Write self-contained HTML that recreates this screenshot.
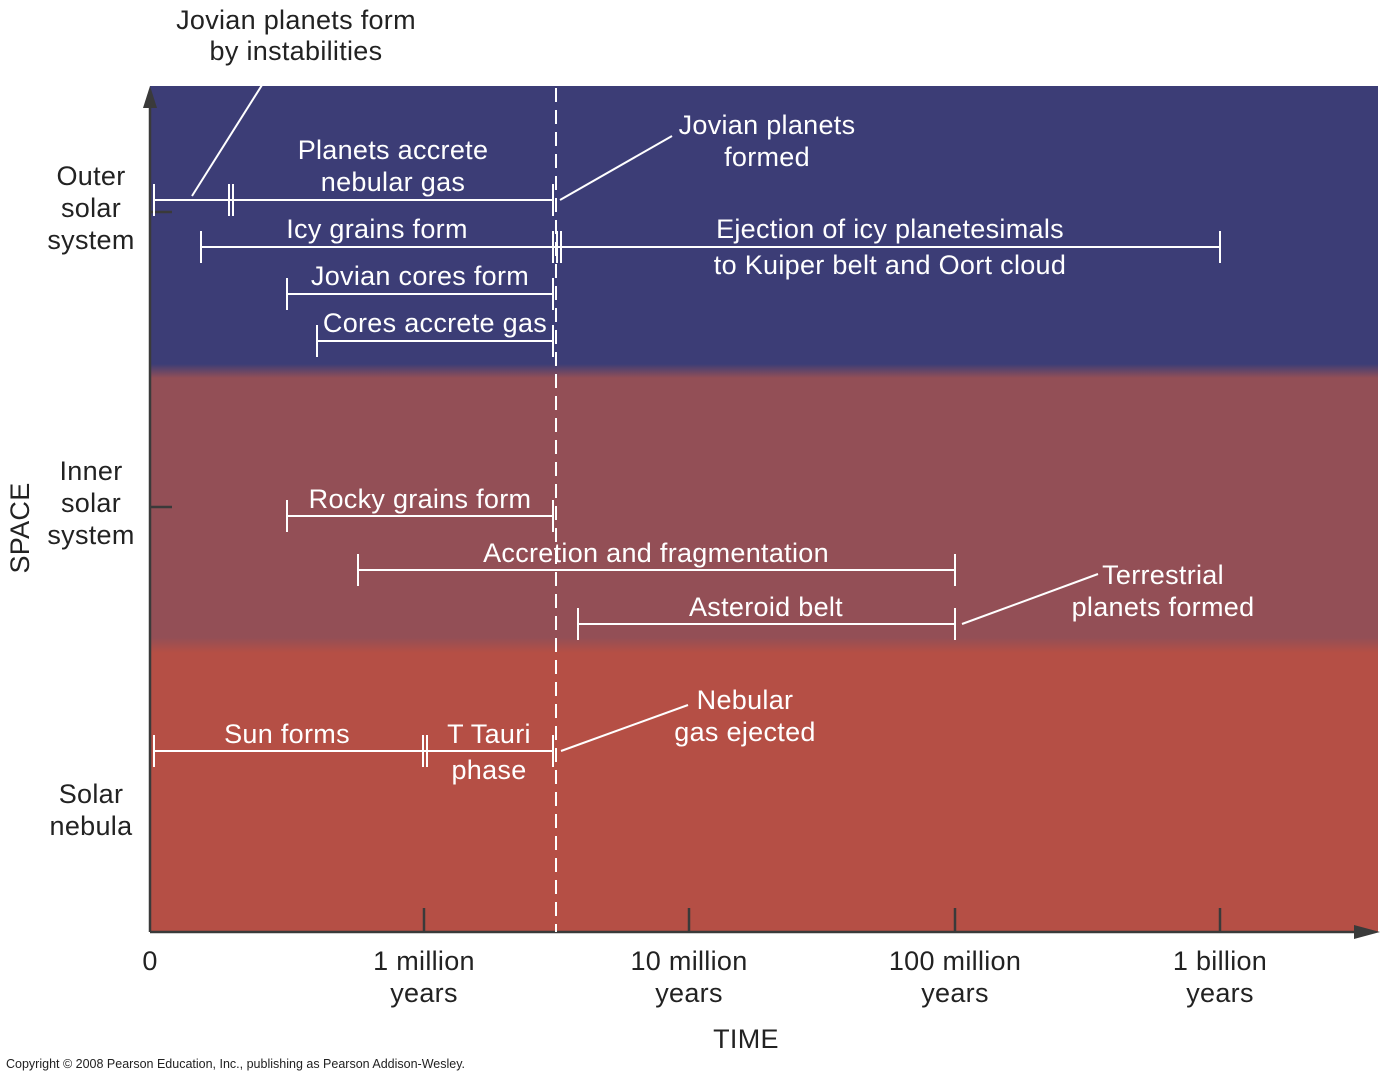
<!DOCTYPE html>
<html><head><meta charset="utf-8"><style>
body{margin:0;background:#fff;}
svg{display:block;font-family:"Liberation Sans",Arial,sans-serif;}
</style></head><body>
<svg width="1386" height="1080" viewBox="0 0 1386 1080">
<defs>
<linearGradient id="bg" x1="0" y1="86" x2="0" y2="932" gradientUnits="userSpaceOnUse">
<stop offset="0" stop-color="#3c3d76"/>
<stop offset="0.3286" stop-color="#3c3d76"/>
<stop offset="0.3452" stop-color="#934f56"/>
<stop offset="0.6518" stop-color="#934f56"/>
<stop offset="0.6700" stop-color="#b54f45"/>
<stop offset="1" stop-color="#b54f45"/>
</linearGradient>
</defs>
<rect x="150" y="86" width="1228" height="846" fill="url(#bg)"/>
<g stroke="#3a3a3a" stroke-width="2.5" fill="none">
<line x1="150" y1="100" x2="150" y2="932"/>
<line x1="150" y1="932" x2="1362" y2="932"/>
<line x1="424" y1="908" x2="424" y2="932"/>
<line x1="689" y1="908" x2="689" y2="932"/>
<line x1="955" y1="908" x2="955" y2="932"/>
<line x1="1220" y1="908" x2="1220" y2="932"/>
<line x1="150" y1="212" x2="172" y2="212"/>
<line x1="150" y1="507" x2="172" y2="507"/>
</g>
<polygon points="150,86 143,108 157,108" fill="#3a3a3a"/>
<polygon points="1380,932 1354,925 1354,939" fill="#3a3a3a"/>
<line x1="556" y1="88" x2="556" y2="932" stroke="#fff" stroke-width="2" stroke-dasharray="14,8"/>
<g stroke="#fff" stroke-width="2" fill="none">
<path d="M154 200H553 M154 184V216 M229 184V216 M233 184V216 M553 184V216"/>
<path d="M192 196L274 66 M560 200L672 136"/>
<path d="M201 247H1220 M201 231V263 M553 231V263 M557 231V263 M561 231V263 M1220 231V263"/>
<path d="M287 294H553 M287 278V310 M553 278V310"/>
<path d="M317 341H553 M317 325V357 M553 325V357"/>
<path d="M287 516H553 M287 500V532 M553 500V532"/>
<path d="M358 570H955 M358 554V586 M955 554V586"/>
<path d="M578 624H955 M578 608V640 M955 608V640 M962 624L1098 574"/>
<path d="M154 751H553 M154 735V767 M423 735V767 M427 735V767 M553 735V767 M561 751L688 705"/>
</g>
<g fill="#fff" font-size="27" letter-spacing="0.3" text-anchor="middle">
<text x="393" y="159">Planets accrete</text>
<text x="393" y="191">nebular gas</text>
<text x="767" y="134">Jovian planets</text>
<text x="767" y="166">formed</text>
<text x="377" y="238">Icy grains form</text>
<text x="890" y="238">Ejection of icy planetesimals</text>
<text x="890" y="274">to Kuiper belt and Oort cloud</text>
<text x="420" y="285">Jovian cores form</text>
<text x="435" y="332">Cores accrete gas</text>
<text x="420" y="508">Rocky grains form</text>
<text x="656" y="562">Accretion and fragmentation</text>
<text x="766" y="616">Asteroid belt</text>
<text x="1163" y="584">Terrestrial</text>
<text x="1163" y="616">planets formed</text>
<text x="287" y="743">Sun forms</text>
<text x="489" y="743">T Tauri</text>
<text x="489" y="779">phase</text>
<text x="745" y="709">Nebular</text>
<text x="745" y="741">gas ejected</text>
</g>
<g fill="#222" font-size="27" letter-spacing="0.3" text-anchor="middle">
<text x="296" y="29">Jovian planets form</text>
<text x="296" y="60">by instabilities</text>
<text x="91" y="185">Outer</text>
<text x="91" y="217">solar</text>
<text x="91" y="249">system</text>
<text x="91" y="480">Inner</text>
<text x="91" y="512">solar</text>
<text x="91" y="544">system</text>
<text x="91" y="803">Solar</text>
<text x="91" y="835">nebula</text>
<text x="150" y="970">0</text>
<text x="424" y="970">1 million</text>
<text x="424" y="1002">years</text>
<text x="689" y="970">10 million</text>
<text x="689" y="1002">years</text>
<text x="955" y="970">100 million</text>
<text x="955" y="1002">years</text>
<text x="1220" y="970">1 billion</text>
<text x="1220" y="1002">years</text>
<text x="746" y="1048">TIME</text>
<text transform="translate(29,528) rotate(-90)">SPACE</text>
</g>
<text x="6" y="1068" font-size="12.5" fill="#222">Copyright © 2008 Pearson Education, Inc., publishing as Pearson Addison-Wesley.</text>
</svg>
</body></html>
